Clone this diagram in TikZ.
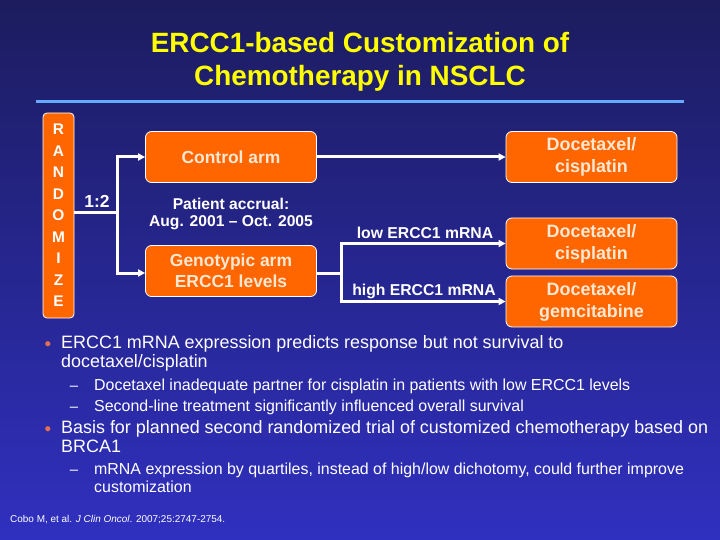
\documentclass[tikz,border=0pt]{standalone}
\usepackage{fontspec}
\setmainfont{Liberation Sans}
\usetikzlibrary{arrows.meta}
\definecolor{bgtop}{RGB}{28,28,95}
\definecolor{bgbot}{RGB}{48,48,192}
\definecolor{orng}{RGB}{255,102,0}
\definecolor{ttl}{RGB}{255,255,0}
\definecolor{rule}{RGB}{102,170,255}
\definecolor{boxtxt}{RGB}{255,232,210}
\definecolor{dot}{RGB}{230,110,80}
\tikzset{
  obox/.style={draw=white, line width=0.8bp, fill=orng, rounded corners=6bp, minimum width=171bp, minimum height=51bp, text=boxtxt, font=\fontsize{17.5}{21}\selectfont\bfseries, align=center, inner sep=0pt},
  conn/.style={draw=white, line width=3bp},
  arr/.style={conn, -{Triangle[length=7bp,width=7bp]}},
  lbl/.style={text=white, font=\fontsize{15.8}{18}\selectfont\bfseries, inner sep=0pt},
  bodytxt/.style={text=white, anchor=north west, align=left, inner sep=0pt},
  bul/.style={text=dot, font=\fontsize{19}{20}\selectfont, inner sep=0pt},
  dsh/.style={text=white, font=\fontsize{15}{17}\selectfont, inner sep=0pt},
}
\begin{document}
\begin{tikzpicture}[x=1bp,y=-1bp]
\useasboundingbox (0,0) rectangle (720,540);
\shade[top color=bgtop, bottom color=bgbot] (0,0) rectangle (720,540);
% title
\node[text=ttl, font=\fontsize{28}{33}\selectfont\bfseries, align=center] (title) at (360,62) {ERCC1-based Customization of\\Chemotherapy in NSCLC};
\draw[rule, line width=3bp] (36,102) -- (684,102);
% randomize
\node[draw=white, line width=0.8bp, fill=orng, rounded corners=4bp, minimum width=31bp, minimum height=205bp, inner sep=0pt, text=white, font=\fontsize{15.5}{21.6}\selectfont\bfseries, align=center] (rand) at (58.5,215.5) {R\\A\\N\\D\\O\\M\\I\\Z\\E};
\node[obox] (ctrl) at (231,157) {Control arm};
\node[obox] (geno) at (231,271) {Genotypic arm\\ERCC1 levels};
\node[obox, font=\fontsize{18}{22}\selectfont\bfseries] (d1) at (591.5,157) {Docetaxel/\\cisplatin};
\node[obox, font=\fontsize{18}{22}\selectfont\bfseries] (d2) at (591.5,243.5) {Docetaxel/\\cisplatin};
\node[obox, font=\fontsize{18}{22}\selectfont\bfseries] (d3) at (591.5,301.5) {Docetaxel/\\gemcitabine};
\node[lbl, align=center, font=\fontsize{15.7}{18}\selectfont\bfseries] (acc) at (231,214) {Patient accrual:\\Aug. 2001 -- Oct. 2005};
% connectors
\coordinate (sp) at (117,213);
\coordinate (sp2) at (341,273);
\draw[conn] (rand.east |- sp) -- (sp);
\draw[arr] (sp) |- (ctrl.west);
\draw[arr] (sp) |- (geno.west |- 0,273);
\node[text=white, font=\fontsize{17.5}{20}\selectfont\bfseries, inner sep=0pt] (ratio) at (97,201) {1:2};
\draw[arr] (ctrl.east) -- (d1.west |- ctrl.east);
\draw[conn] (geno.east |- sp2) -- (sp2);
\draw[arr] (sp2) |- (d2.west);
\draw[arr] (sp2) |- (d3.west);
\node[lbl] (low) at (425,233) {low ERCC1 mRNA};
\node[lbl] (high) at (424,291) {high ERCC1 mRNA};
% bullets
\node[bul] (b1) at (48,346) {\textbullet};
\node[bodytxt, font=\fontsize{18}{19.5}\selectfont] (t1) at (61,335) {ERCC1 mRNA expression predicts response but not survival to\\docetaxel/cisplatin};
\node[dsh] (s1) at (74,388) {--};
\node[bodytxt, font=\fontsize{16}{21}\selectfont] (t2) at (94,379) {Docetaxel inadequate partner for cisplatin in patients with low ERCC1 levels\\Second-line treatment significantly influenced overall survival};
\node[dsh] (s2) at (74,409) {--};
\node[bul] (b2) at (48,431) {\textbullet};
\node[bodytxt, font=\fontsize{18}{19.5}\selectfont] (t3) at (61,420) {Basis for planned second randomized trial of customized chemotherapy based on\\BRCA1};
\node[dsh] (s3) at (74,472) {--};
\node[bodytxt, font=\fontsize{16}{17.5}\selectfont] (t4) at (94,463) {mRNA expression by quartiles, instead of high/low dichotomy, could further improve\\customization};
\node[bodytxt, font=\fontsize{10}{12}\selectfont] (cite) at (10,515) {Cobo M, et al. \textit{J Clin Oncol}. 2007;25:2747-2754.};
\end{tikzpicture}
\end{document}
